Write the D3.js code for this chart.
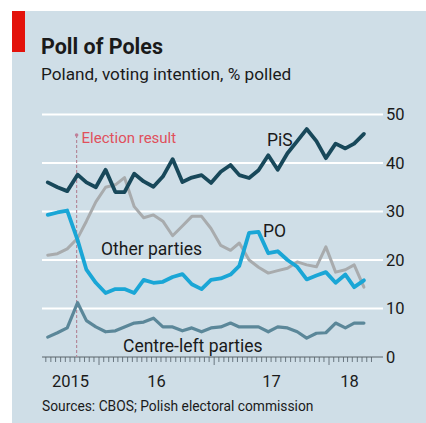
<!DOCTYPE html>
<html>
<head>
<meta charset="utf-8">
<script src="https://cdn.jsdelivr.net/npm/d3@7"></script>
<style>
  body { margin: 0; background: #fff; }
  svg text { font-family: Roboto, "Open Sans", sans-serif; }
</style>
</head>
<body>
<div id="chart"></div>
<script>
// Poll of Poles - monthly polls, with the October 2015 election result
var months = ["2015-07-22","2015-08-22","2015-09-22","2015-10-25","2015-11-22","2015-12-22",
  "2016-01-22","2016-02-22","2016-03-22","2016-04-22","2016-05-22","2016-06-22",
  "2016-07-22","2016-08-22","2016-09-22","2016-10-22","2016-11-22","2016-12-22",
  "2017-01-22","2017-02-22","2017-03-22","2017-04-22","2017-05-22","2017-06-22",
  "2017-07-22","2017-08-22","2017-09-22","2017-10-22","2017-11-22","2017-12-22",
  "2018-01-22","2018-02-22","2018-03-22","2018-04-22"]

var pis = [36, 35, 34.2, 37.6, 36, 35, 38.6, 34, 34, 37.8, 36.2, 35.1,
  37.2, 40.8, 36.1, 37, 37.5, 35.9, 38.2, 39.6, 37.5, 36.9, 38.5, 41.6,
  38.6, 42, 44.5, 47, 44.5, 41, 44, 43, 44, 46]
var po = [29.3, 29.8, 30.2, 24.1, 18, 15.3, 13.2, 14, 14, 13.2, 15.9, 15.3,
  15.5, 16.5, 17.1, 15, 14, 15.9, 16.2, 17, 18.8, 25.6, 25.8, 21.4,
  21.8, 20, 18.6, 16, 16.8, 17.5, 15.3, 17, 14.4, 15.8]
var others = [21, 21.3, 22.3, 24.5, 28, 32, 35, 35.5, 37, 31, 28.7, 29.3,
  28, 25, 27, 29, 29, 26.5, 23, 22, 23.5, 20, 18.5, 17.3,
  17.8, 18.3, 19.6, 19, 18.6, 22.7, 17.5, 18, 19, 14.4]
var centreLeft = [4.1, 5, 6, 11.2, 7.5, 6.2, 5.2, 5.4, 6.2, 7, 7.2, 8,
  6.2, 6.2, 5.4, 6, 5.2, 6, 6.2, 7, 6.2, 6.2, 6.2, 5.2,
  6.2, 6, 5.2, 3.9, 4.9, 5, 7, 6, 7, 7]

var yTicks = [0, 10, 20, 30, 40, 50]
var yearLabels = ["2015", "16", "17", "18"]

var W = 426, H = 423
var parse = d3.timeParse("%Y-%m-%d")
var dates = months.map(parse)

var svg = d3.select("#chart").append("svg")
  .attr("width", W).attr("height", H)

// panel background + red tag
svg.append("rect").attr("x", 12).attr("y", 11).attr("width", W - 12).attr("height", H - 11)
  .attr("fill", "#cfdee7")
svg.append("rect").attr("x", 12).attr("y", 11).attr("width", 13).attr("height", 41)
  .attr("fill", "#e3120b")

svg.append("text").text("Poll of Poles")
  .attr("x", 41).attr("y", 54)
  .attr("font-size", 21.5).attr("font-weight", "bold").attr("fill", "#1a1a1a")
svg.append("text").text("Poland, voting intention, % polled")
  .attr("x", 41).attr("y", 80)
  .attr("font-size", 17.2).attr("fill", "#1a1a1a")

// scales
var x = d3.scaleTime()
  .domain([new Date(2016, 0, 1), new Date(2018, 0, 1)])
  .range([99, 329])
var y = d3.scaleLinear().domain([0, 50]).range([357, 114.5])

var left = 42, right = 383

// gridlines
svg.selectAll(".grid")
  .data(yTicks.filter(function(d) { return d > 0 }))
  .enter().append("line")
  .attr("x1", left).attr("x2", right)
  .attr("y1", function(d) { return y(d) }).attr("y2", function(d) { return y(d) })
  .attr("stroke", "#fff").attr("stroke-width", 2)

svg.selectAll(".ylab")
  .data(yTicks)
  .enter().append("text")
  .text(function(d) { return d })
  .attr("x", 386).attr("y", function(d) { return y(d) })
  .attr("dy", "0.35em")
  .attr("font-size", 16.5).attr("fill", "#1a1a1a")

// x axis: half-month ticks, longer at year boundaries
var tickDates = []
d3.timeMonth.range(new Date(2015, 5, 1), new Date(2018, 5, 1)).forEach(function(m) {
  tickDates.push(m)
  tickDates.push(new Date(m.getFullYear(), m.getMonth(), 16))
})
tickDates = tickDates.filter(function(d) { return x(d) >= left && x(d) <= 378 })

svg.selectAll(".xtick")
  .data(tickDates)
  .enter().append("line")
  .attr("x1", function(d) { return x(d) }).attr("x2", function(d) { return x(d) })
  .attr("y1", y(0))
  .attr("y2", function(d) { return (d.getMonth() === 0 && d.getDate() === 1) ? y(0) + 8 : y(0) + 5 })
  .attr("stroke", "#6a7780").attr("stroke-width", 1)

svg.append("line")
  .attr("x1", left).attr("x2", right).attr("y1", y(0)).attr("y2", y(0))
  .attr("stroke", "#5a646b").attr("stroke-width", 1)

var yearCentres = [(left + x(new Date(2016, 0, 1))) / 2,
  (x(new Date(2016, 0, 1)) + x(new Date(2017, 0, 1))) / 2,
  (x(new Date(2017, 0, 1)) + x(new Date(2018, 0, 1))) / 2,
  (x(new Date(2018, 0, 1)) + 370) / 2]
svg.selectAll(".xlab")
  .data(yearLabels)
  .enter().append("text")
  .text(function(d) { return d })
  .attr("x", function(d, i) { return yearCentres[i] })
  .attr("y", 387)
  .attr("text-anchor", "middle")
  .attr("font-size", 16.5).attr("fill", "#1a1a1a")

// election marker
var election = parse("2015-10-25")
svg.append("line")
  .attr("x1", x(election) - 1).attr("x2", x(election) - 1)
  .attr("y1", 135).attr("y2", y(0))
  .attr("stroke", "#b48a9a").attr("stroke-width", 1.2)
  .attr("stroke-dasharray", "3,2")
svg.append("circle")
  .attr("cx", x(election) - 1).attr("cy", 135).attr("r", 1.8)
  .attr("fill", "#c0809a")
svg.append("text").text("Election result")
  .attr("x", x(election) + 4).attr("y", 143)
  .attr("font-size", 15).attr("fill", "#e0505c")

// lines
var series = [
  { name: "others", values: others, color: "#a8abad", width: 3 },
  { name: "centreLeft", values: centreLeft, color: "#5b8799", width: 3.2 },
  { name: "po", values: po, color: "#1aa6d6", width: 3.8 },
  { name: "pis", values: pis, color: "#18485a", width: 3.8 }
]

var line = d3.line()
  .x(function(d, i) { return x(dates[i]) })
  .y(function(d) { return y(d) })

svg.selectAll(".series")
  .data(series)
  .enter().append("path")
  .attr("d", function(s) { return line(s.values) })
  .attr("fill", "none")
  .attr("stroke", function(s) { return s.color })
  .attr("stroke-width", function(s) { return s.width })
  .attr("stroke-linejoin", "round")
  .attr("stroke-linecap", "round")

// series labels
var labels = [
  { text: "PiS", x: 267, y: 146 },
  { text: "PO", x: 263, y: 237 },
  { text: "Other parties", x: 101, y: 255 },
  { text: "Centre-left parties", x: 123, y: 352 }
]
svg.selectAll(".slab")
  .data(labels)
  .enter().append("text")
  .text(function(d) { return d.text })
  .attr("x", function(d) { return d.x }).attr("y", function(d) { return d.y })
  .attr("font-size", 17.5).attr("fill", "#1a1a1a")

svg.append("text").text("Sources: CBOS; Polish electoral commission")
  .attr("x", 42).attr("y", 411)
  .attr("font-size", 13.8).attr("fill", "#1a1a1a")
</script>
</body>
</html>
